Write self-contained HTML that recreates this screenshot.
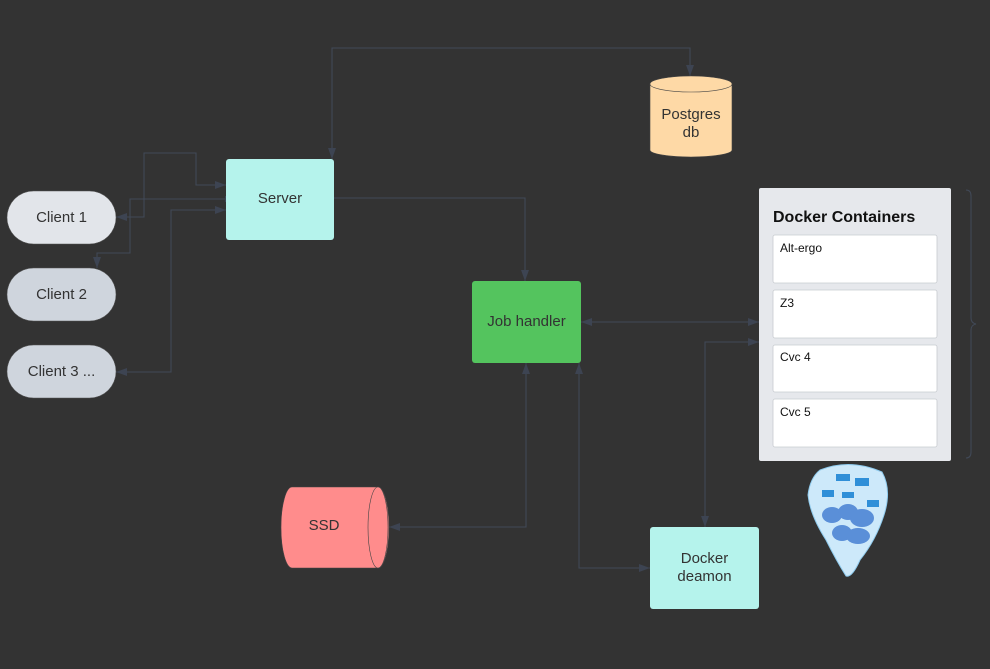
<!DOCTYPE html>
<html><head><meta charset="utf-8"><style>
html,body{margin:0;padding:0;background:#333333;}
svg{display:block;font-family:"Liberation Sans",sans-serif;}
</style></head><body>
<svg width="990" height="669" viewBox="0 0 990 669" xmlns="http://www.w3.org/2000/svg">
<defs>
<marker id="a" markerWidth="12" markerHeight="10" refX="11" refY="5" orient="auto" markerUnits="userSpaceOnUse">
<path d="M0,1 L11,5 L0,9 Z" fill="#3d4452"/></marker>
<marker id="s" markerWidth="12" markerHeight="10" refX="11" refY="5" orient="auto-start-reverse" markerUnits="userSpaceOnUse">
<path d="M0,1 L11,5 L0,9 Z" fill="#3d4452"/></marker>
</defs>
<rect width="990" height="669" fill="#333333"/>
<g fill="none" stroke="#414957" stroke-width="1.1">
<path d="M332,159 L332,48 L690,48 L690,76" marker-start="url(#s)" marker-end="url(#a)"/>
<path d="M334,198 L525,198 L525,281" marker-end="url(#a)"/>
<path d="M116,217 L144,217 L144,153 L196,153 L196,185 L226,185" marker-start="url(#s)" marker-end="url(#a)"/>
<path d="M226,199 L130,199 L130,253 L97,253 L97,268" marker-end="url(#a)"/>
<path d="M116,372 L171,372 L171,210 L226,210" marker-start="url(#s)" marker-end="url(#a)"/>
<path d="M581,322 L759,322" marker-start="url(#s)" marker-end="url(#a)"/>
<path d="M705,527 L705,342 L759,342" marker-start="url(#s)" marker-end="url(#a)"/>
<path d="M526,363 L526,527 L389,527" marker-start="url(#s)" marker-end="url(#a)"/>
<path d="M579,363 L579,568 L650,568" marker-start="url(#s)" marker-end="url(#a)"/>
<path d="M966,190 Q971,190 971,196 L971,318 Q971,323 976,324 Q971,325 971,330 L971,452 Q971,458 966,458"/>
</g>
<rect x="225" y="196" width="5" height="6" fill="#3d4452"/>
<rect x="7" y="191" width="109" height="53" rx="26.5" fill="#e2e5ea" stroke="#555" stroke-width="0.5"/>
<text x="61.5" y="222" text-anchor="middle" font-size="15" fill="#333">Client 1</text>
<rect x="7" y="268" width="109" height="53" rx="26.5" fill="#cfd5dd" stroke="#555" stroke-width="0.5"/>
<text x="61.5" y="299" text-anchor="middle" font-size="15" fill="#333">Client 2</text>
<rect x="7" y="345" width="109" height="53" rx="26.5" fill="#cfd5dd" stroke="#555" stroke-width="0.5"/>
<text x="61.5" y="376" text-anchor="middle" font-size="15" fill="#333">Client 3 ...</text>
<rect x="226" y="159" width="108" height="81" rx="3" fill="#b5f3ec"/>
<text x="280" y="203" text-anchor="middle" font-size="15" fill="#333">Server</text>
<path d="M650,84 L650,150 A41,7 0 0 0 732,150 L732,84 Z" fill="#fed9a6" stroke="#444" stroke-width="0.6"/>
<ellipse cx="691" cy="84" rx="41" ry="8" fill="#fed9a6" stroke="#444" stroke-width="0.6"/>
<text x="691" y="119" text-anchor="middle" font-size="15" fill="#333">Postgres</text>
<text x="691" y="137" text-anchor="middle" font-size="15" fill="#333">db</text>
<rect x="472" y="281" width="109" height="82" rx="3" fill="#54c45e"/>
<text x="526.5" y="326" text-anchor="middle" font-size="15" fill="#333">Job handler</text>
<path d="M292,487 L378,487 A11,40.5 0 0 1 378,568 L292,568 A11,40.5 0 0 1 292,487 Z" fill="#ff8c8c" stroke="#444" stroke-width="0.6"/>
<ellipse cx="378" cy="527.5" rx="10" ry="40.5" fill="#ff8c8c" stroke="#444" stroke-width="0.6"/>
<text x="324" y="530" text-anchor="middle" font-size="15" fill="#333">SSD</text>
<rect x="650" y="527" width="109" height="82" rx="3" fill="#b5f3ec"/>
<text x="704.5" y="563" text-anchor="middle" font-size="15" fill="#333">Docker</text>
<text x="704.5" y="581" text-anchor="middle" font-size="15" fill="#333">deamon</text>
<rect x="759" y="188" width="192" height="273" rx="2" fill="#e6e8ec"/>
<text x="773" y="222" font-size="16" font-weight="bold" fill="#111">Docker Containers</text>
<g fill="#ffffff" stroke="#c8cbd0" stroke-width="0.8">
<rect x="773" y="235" width="164" height="48" rx="2"/>
<rect x="773" y="290" width="164" height="48" rx="2"/>
<rect x="773" y="345" width="164" height="47" rx="2"/>
<rect x="773" y="399" width="164" height="48" rx="2"/>
</g>
<g font-size="12" fill="#111">
<text x="780" y="252">Alt-ergo</text>
<text x="780" y="307">Z3</text>
<text x="780" y="361">Cvc 4</text>
<text x="780" y="416">Cvc 5</text>
</g>
<path d="M820,470 Q850,458 882,472 Q892,490 884,515 Q876,540 860,560 Q852,578 846,576 Q836,560 826,540 Q810,515 808,495 Q810,478 820,470 Z" fill="#cde9fa" stroke="#8fcbee" stroke-width="1"/>
<g fill="#2f8fd8">
<rect x="836" y="474" width="14" height="7"/><rect x="855" y="478" width="14" height="8"/>
<rect x="822" y="490" width="12" height="7"/><rect x="842" y="492" width="12" height="6"/>
<rect x="867" y="500" width="12" height="7"/>
</g>
<g fill="#5a8fd8">
<ellipse cx="832" cy="515" rx="10" ry="8"/><ellipse cx="848" cy="512" rx="10" ry="8"/>
<ellipse cx="862" cy="518" rx="12" ry="9"/><ellipse cx="842" cy="533" rx="10" ry="8"/>
<ellipse cx="858" cy="536" rx="12" ry="8"/>
</g>
</svg>
</body></html>
